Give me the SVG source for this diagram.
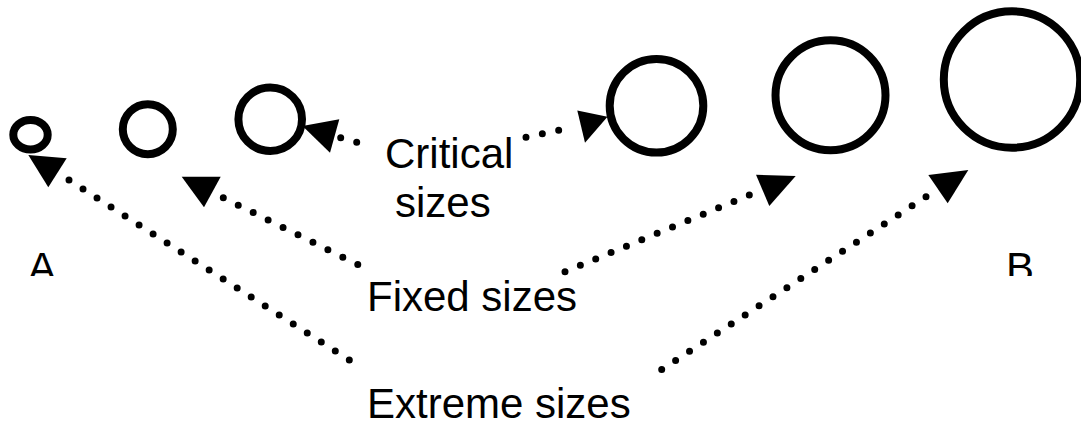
<svg xmlns="http://www.w3.org/2000/svg" width="1081" height="432" viewBox="0 0 1081 432">
<style>
.ring{fill:none;stroke:#000;stroke-width:8}
.dots{fill:none;stroke:#000;stroke-width:7;stroke-linecap:round;stroke-dasharray:0 1}
.head{fill:#000;stroke:none}
.lbl{font-family:"Liberation Sans",Arial,sans-serif;font-size:42px;fill:#000}
</style>
<defs>
<clipPath id="cut"><rect x="0" y="0" width="1081" height="276"/></clipPath>
</defs>
<rect width="1081" height="432" fill="#fff"/>
<g id="c1"><ellipse class="ring" cx="30.5" cy="134.7" rx="17.2" ry="14.7"/></g>
<g id="c2"><circle class="ring" cx="147.8" cy="129.2" r="25"/></g>
<g id="c3"><circle class="ring" cx="270.2" cy="119.2" r="31.8"/></g>
<g id="c4"><circle class="ring" cx="656.5" cy="105.8" r="46.8"/></g>
<g id="c5"><circle class="ring" cx="830.5" cy="95.2" r="55"/></g>
<g id="c6"><circle class="ring" cx="1012" cy="79.5" r="68.2"/></g>
<g id="labelA" clip-path="url(#cut)"><text class="lbl" x="28" y="282">A</text></g>
<g id="labelB" clip-path="url(#cut)"><text class="lbl" x="1006" y="282">B</text></g>
<g id="critical"><text class="lbl" x="385" y="168.3">Critical</text><text class="lbl" x="395" y="217.3">sizes</text></g>
<g id="fixed"><text class="lbl" x="367" y="310.7">Fixed sizes</text></g>
<g id="extreme"><text class="lbl" x="367" y="418.3">Extreme sizes</text></g>
<g id="connectors">
<path class="dots" pathLength="20" d="M69,180 L349.3,360"/>
<polygon class="head" points="28.3,155 66.7,158.3 48.3,187.3"/>
<path class="dots" pathLength="10" d="M223.3,197.7 L372.7,272"/>
<polygon class="head" points="181.7,176.7 220.7,176.7 204,207.3"/>
<path class="dots" pathLength="2" d="M340.7,137.7 L372.7,146.7"/>
<polygon class="head" points="302.5,126 339.3,119.3 330,152.7"/>
<path class="dots" pathLength="3" d="M526,137.3 L575,126.7"/>
<polygon class="head" points="577.3,110.5 585,142.7 607.5,116.7"/>
<path class="dots" pathLength="12" d="M565,271.7 L749.3,195"/>
<polygon class="head" points="756,174.7 795.7,176 769.3,206"/>
<path class="dots" pathLength="19" d="M661.7,369.5 L926,196.7"/>
<polygon class="head" points="928.3,175 968.3,170 947.7,203.3"/>
</g>
</svg>
